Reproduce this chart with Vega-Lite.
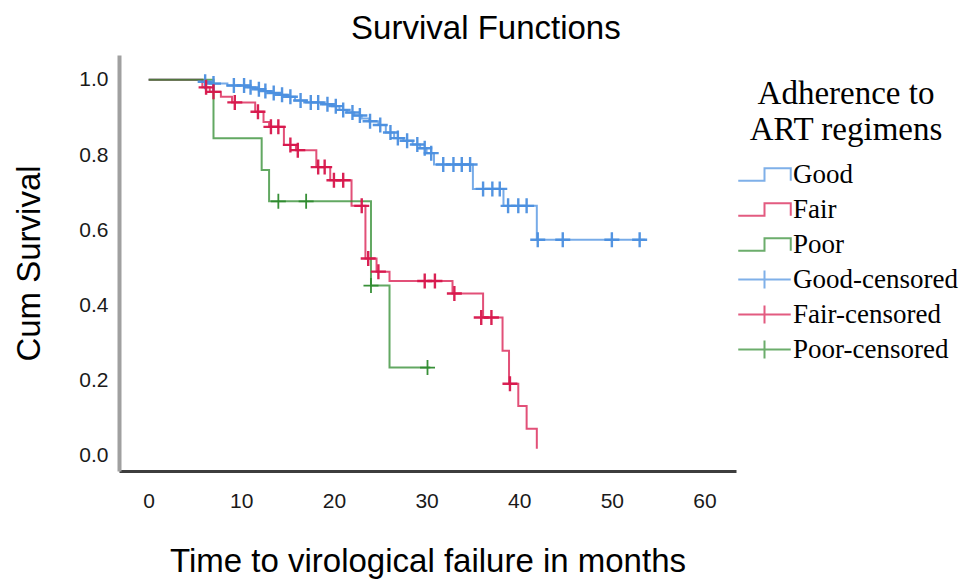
{
  "$schema": "https://vega.github.io/schema/vega-lite/v6.json",
  "width": 617,
  "height": 416,
  "autosize": {"type": "none"},
  "padding": {"left": 119, "top": 55, "right": 238, "bottom": 109},
  "background": "white",
  "title": {"text": "Survival Functions", "frame": "bounds", "anchor": "middle", "font": "Liberation Sans", "fontSize": 33, "fontWeight": "normal", "color": "#000000", "offset": 5},
  "config": {
    "view": {"stroke": null},
    "axis": {"grid": false, "ticks": false, "labelFont": "Liberation Sans", "labelFontSize": 21, "labelColor": "#1a1a1a", "titleFont": "Liberation Sans", "titleFontSize": 33, "titleFontWeight": "normal", "titleColor": "#000000"},
    "legend": {
      "titleFont": "Liberation Serif", "titleFontSize": 33, "titleFontWeight": "normal", "titleColor": "#000000", "titleLineHeight": 36, "titleAlign": "center", "titleAnchor": "middle", "titlePadding": 14, "titleLimit": 500,
      "labelFont": "Liberation Serif", "labelFontSize": 27, "labelColor": "#000000", "labelOffset": 15, "labelLimit": 400,
      "symbolSize": 441, "symbolStrokeWidth": 2, "symbolOffset": 16, "rowPadding": 7, "padding": 0
    }
  },
  "datasets": {
    "goodSteps": [
      {"t": 0, "s": 1.0}, {"t": 5.8, "s": 0.995}, {"t": 6.6, "s": 0.99}, {"t": 8.5, "s": 0.985}, {"t": 10.7, "s": 0.98}, {"t": 11.5, "s": 0.975}, {"t": 12.3, "s": 0.97}, {"t": 13.1, "s": 0.965}, {"t": 14.0, "s": 0.96}, {"t": 14.9, "s": 0.955}, {"t": 15.8, "s": 0.945}, {"t": 17.0, "s": 0.94}, {"t": 18.8, "s": 0.935}, {"t": 19.8, "s": 0.93}, {"t": 20.6, "s": 0.92}, {"t": 21.4, "s": 0.913}, {"t": 22.2, "s": 0.905}, {"t": 23.0, "s": 0.897}, {"t": 23.8, "s": 0.89}, {"t": 24.8, "s": 0.88}, {"t": 25.6, "s": 0.86}, {"t": 26.5, "s": 0.845}, {"t": 27.5, "s": 0.838}, {"t": 28.5, "s": 0.828}, {"t": 29.3, "s": 0.818}, {"t": 30.0, "s": 0.805}, {"t": 30.8, "s": 0.775}, {"t": 35.0, "s": 0.71}, {"t": 38.3, "s": 0.665}, {"t": 41.9, "s": 0.575}, {"t": 53.6, "s": 0.575}
    ],
    "fairSteps": [
      {"t": 0, "s": 1.0}, {"t": 5.8, "s": 0.98}, {"t": 6.6, "s": 0.968}, {"t": 7.8, "s": 0.955}, {"t": 9.0, "s": 0.94}, {"t": 11.5, "s": 0.915}, {"t": 12.4, "s": 0.888}, {"t": 13.0, "s": 0.875}, {"t": 14.6, "s": 0.827}, {"t": 15.9, "s": 0.813}, {"t": 18.1, "s": 0.768}, {"t": 19.6, "s": 0.733}, {"t": 21.9, "s": 0.665}, {"t": 23.4, "s": 0.525}, {"t": 24.6, "s": 0.49}, {"t": 26.0, "s": 0.465}, {"t": 32.8, "s": 0.432}, {"t": 36.1, "s": 0.368}, {"t": 38.2, "s": 0.28}, {"t": 38.9, "s": 0.192}, {"t": 39.9, "s": 0.133}, {"t": 40.8, "s": 0.072}, {"t": 41.9, "s": 0.019}
    ],
    "poorSteps": [
      {"t": 0, "s": 1.0}, {"t": 7.0, "s": 0.845}, {"t": 12.2, "s": 0.76}, {"t": 13.0, "s": 0.677}, {"t": 24.0, "s": 0.453}, {"t": 26.0, "s": 0.235}, {"t": 30.4, "s": 0.235}
    ],
    "goodCens": [
      {"t": 6.1, "s": 0.995}, {"t": 7.0, "s": 0.99}, {"t": 9.2, "s": 0.985}, {"t": 10.3, "s": 0.985}, {"t": 11.0, "s": 0.98}, {"t": 11.9, "s": 0.975}, {"t": 12.6, "s": 0.97}, {"t": 13.5, "s": 0.965}, {"t": 14.4, "s": 0.96}, {"t": 15.3, "s": 0.955}, {"t": 16.4, "s": 0.945}, {"t": 17.5, "s": 0.94}, {"t": 18.3, "s": 0.94}, {"t": 19.3, "s": 0.935}, {"t": 20.2, "s": 0.93}, {"t": 21.0, "s": 0.92}, {"t": 22.0, "s": 0.913}, {"t": 22.8, "s": 0.905}, {"t": 23.9, "s": 0.89}, {"t": 25.0, "s": 0.88}, {"t": 26.1, "s": 0.86}, {"t": 26.9, "s": 0.845}, {"t": 27.9, "s": 0.838}, {"t": 29.0, "s": 0.828}, {"t": 29.8, "s": 0.818}, {"t": 30.5, "s": 0.805}, {"t": 31.8, "s": 0.775}, {"t": 32.9, "s": 0.775}, {"t": 33.8, "s": 0.775}, {"t": 34.7, "s": 0.775}, {"t": 36.1, "s": 0.71}, {"t": 37.1, "s": 0.71}, {"t": 37.9, "s": 0.71}, {"t": 38.8, "s": 0.665}, {"t": 39.9, "s": 0.665}, {"t": 40.8, "s": 0.665}, {"t": 42.0, "s": 0.575}, {"t": 44.7, "s": 0.575}, {"t": 50.0, "s": 0.575}, {"t": 53.0, "s": 0.575}
    ],
    "fairCens": [
      {"t": 6.2, "s": 0.98}, {"t": 7.0, "s": 0.968}, {"t": 9.3, "s": 0.94}, {"t": 11.8, "s": 0.915}, {"t": 13.2, "s": 0.875}, {"t": 14.0, "s": 0.875}, {"t": 15.3, "s": 0.827}, {"t": 16.1, "s": 0.813}, {"t": 18.3, "s": 0.768}, {"t": 19.0, "s": 0.768}, {"t": 20.0, "s": 0.733}, {"t": 21.0, "s": 0.733}, {"t": 23.0, "s": 0.665}, {"t": 23.7, "s": 0.525}, {"t": 24.8, "s": 0.49}, {"t": 29.8, "s": 0.465}, {"t": 30.9, "s": 0.465}, {"t": 33.0, "s": 0.432}, {"t": 35.9, "s": 0.368}, {"t": 37.0, "s": 0.368}, {"t": 39.0, "s": 0.192}
    ],
    "poorCens": [
      {"t": 14.0, "s": 0.677}, {"t": 17.0, "s": 0.677}, {"t": 24.0, "s": 0.453}, {"t": 30.1, "s": 0.235}
    ],
    "legendRows": [
      {"series": "Good"}, {"series": "Fair"}, {"series": "Poor"}, {"series": "Good-censored"}, {"series": "Fair-censored"}, {"series": "Poor-censored"}
    ]
  },
  "encoding": {
    "x": {"field": "t", "type": "quantitative", "scale": {"domain": [-3.2, 63.4], "nice": false, "zero": false},
      "axis": {"title": "Time to virological failure in months", "values": [0, 10, 20, 30, 40, 50, 60], "domainColor": "#3d3d3d", "domainWidth": 3, "labelPadding": 19, "titlePadding": 34}},
    "y": {"field": "s", "type": "quantitative", "scale": {"domain": [-0.04, 1.066], "nice": false, "zero": false},
      "axis": {"title": "Cum Survival", "values": [0, 0.2, 0.4, 0.6, 0.8, 1.0], "format": ".1f", "domainColor": "#a0a0a0", "domainWidth": 4, "labelPadding": 11, "titlePadding": 32}}
  },
  "layer": [
    {
      "data": {"name": "goodSteps"},
      "mark": {"type": "line", "interpolate": "step-after", "strokeWidth": 2, "color": "#4a8fe0", "opacity": 0.75}
    },
    {
      "data": {"name": "fairSteps"},
      "mark": {"type": "line", "interpolate": "step-after", "strokeWidth": 2, "color": "#d8164b", "opacity": 0.75}
    },
    {
      "data": {"name": "poorSteps"},
      "mark": {"type": "line", "interpolate": "step-after", "strokeWidth": 2, "color": "#2e8b2e", "opacity": 0.75}
    },
    {
      "data": {"name": "goodCens"},
      "mark": {"type": "point", "shape": "M-1,0H1M0,-1V1", "filled": false, "size": 225, "strokeWidth": 2.4, "color": "#4a8fe0", "opacity": 0.95}
    },
    {
      "data": {"name": "fairCens"},
      "mark": {"type": "point", "shape": "M-1,0H1M0,-1V1", "filled": false, "size": 225, "strokeWidth": 2.4, "color": "#d8164b", "opacity": 0.95}
    },
    {
      "data": {"name": "poorCens"},
      "mark": {"type": "point", "shape": "M-1,0H1M0,-1V1", "filled": false, "size": 225, "strokeWidth": 1.8, "color": "#2e8b2e", "opacity": 0.95}
    },
    {
      "data": {"name": "legendRows"},
      "mark": {"type": "point", "filled": false, "size": 0, "strokeWidth": 2},
      "encoding": {
        "x": {"value": 0},
        "y": {"value": 0},
        "color": {"field": "series", "type": "nominal",
          "scale": {"domain": ["Good", "Fair", "Poor", "Good-censored", "Fair-censored", "Poor-censored"], "range": ["#4a8fe0", "#d8164b", "#2e8b2e", "#4a8fe0", "#d8164b", "#2e8b2e"]},
          "legend": {"title": ["Adherence to", "ART regimens"], "orient": "none", "legendX": 616, "legendY": 23}},
        "shape": {"field": "series", "type": "nominal",
          "scale": {"domain": ["Good", "Fair", "Poor", "Good-censored", "Fair-censored", "Poor-censored"],
            "range": ["M-2.5,0.6H0V-0.6H2.5V0.6", "M-2.5,0.6H0V-0.6H2.5V0.6", "M-2.5,0.6H0V-0.6H2.5V0.6", "M-2.5,0H2.5M0,-0.85V0.85", "M-2.5,0H2.5M0,-0.85V0.85", "M-2.5,0H2.5M0,-0.85V0.85"]},
          "legend": {"title": ["Adherence to", "ART regimens"], "orient": "none", "legendX": 616, "legendY": 23}}
      }
    }
  ]
}
